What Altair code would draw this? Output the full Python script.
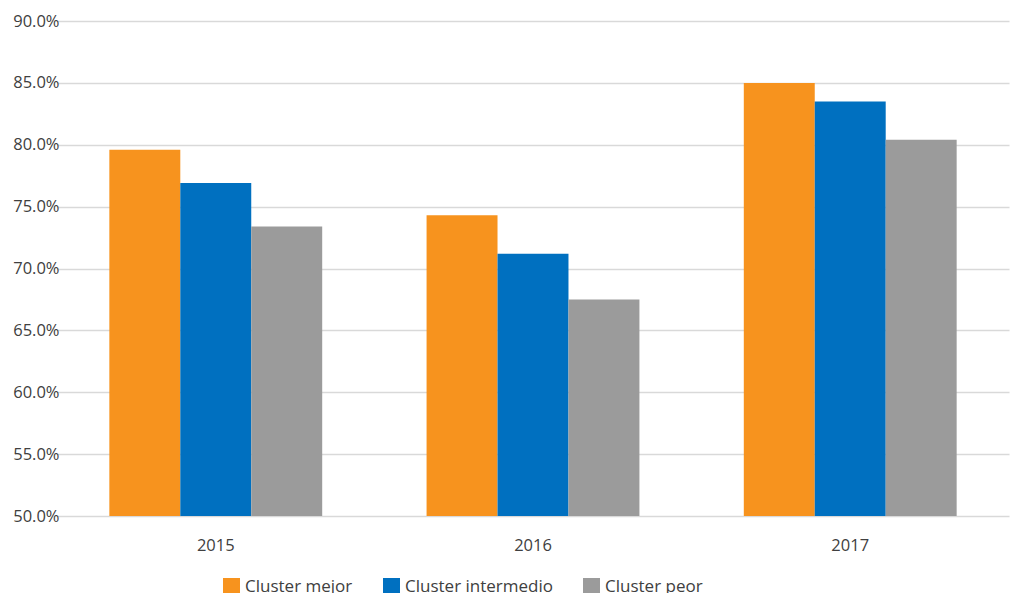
import altair as alt
import pandas as pd

years = ["2015", "2016", "2017"]
series = ["Cluster mejor", "Cluster intermedio", "Cluster peor"]
mejor = [79.6, 74.3, 85.0]
intermedio = [76.9, 71.2, 83.5]
peor = [73.4, 67.5, 80.4]
colors = ["#F7931E", "#0070C0", "#9B9B9B"]
y_ticks = [0.50, 0.55, 0.60, 0.65, 0.70, 0.75, 0.80, 0.85, 0.90]

rows = []
for i, yr in enumerate(years):
    for s, vals in zip(series, [mejor, intermedio, peor]):
        rows.append({"year": yr, "series": s, "value": vals[i] / 100})
df = pd.DataFrame(rows)

FONT = "Open Sans"

chart = alt.Chart(df).mark_bar(clip=True).encode(
    x=alt.X("year:N", sort=years, title=None,
            scale=alt.Scale(range=[-9, 943], paddingInner=0.329, paddingOuter=0.165),
            axis=alt.Axis(labelAngle=0, domain=False, ticks=False, labelPadding=21,
                          labelFontSize=16.5, labelFont=FONT, labelColor="#404040")),
    xOffset=alt.XOffset("series:N", sort=series, scale=alt.Scale(paddingInner=0, paddingOuter=0)),
    y=alt.Y("value:Q", title=None,
            scale=alt.Scale(domain=[0.5, 0.9], nice=False, zero=False),
            axis=alt.Axis(values=y_ticks, format=".1%", domain=False, ticks=False,
                          labelPadding=7, labelFontSize=16.5, labelFont=FONT,
                          labelColor="#404040", gridColor="#D9D9D9", gridWidth=1.3)),
    color=alt.Color("series:N", sort=series,
                    scale=alt.Scale(domain=series, range=colors),
                    legend=alt.Legend(title=None, orient="none", direction="horizontal",
                                      legendX=157, legendY=62 + 495, symbolType="square",
                                      symbolSize=289, symbolStrokeWidth=0, symbolOpacity=1,
                                      labelFontSize=17, labelFont=FONT, labelColor="#404040",
                                      columnPadding=30, labelOffset=5, padding=0)),
).properties(
    width=950, height=495,
    padding={"left": 4, "top": 5, "right": 0, "bottom": 0},
).configure_view(stroke=None)

chart.save("out.html", embed_options={"renderer": "svg", "actions": False})
